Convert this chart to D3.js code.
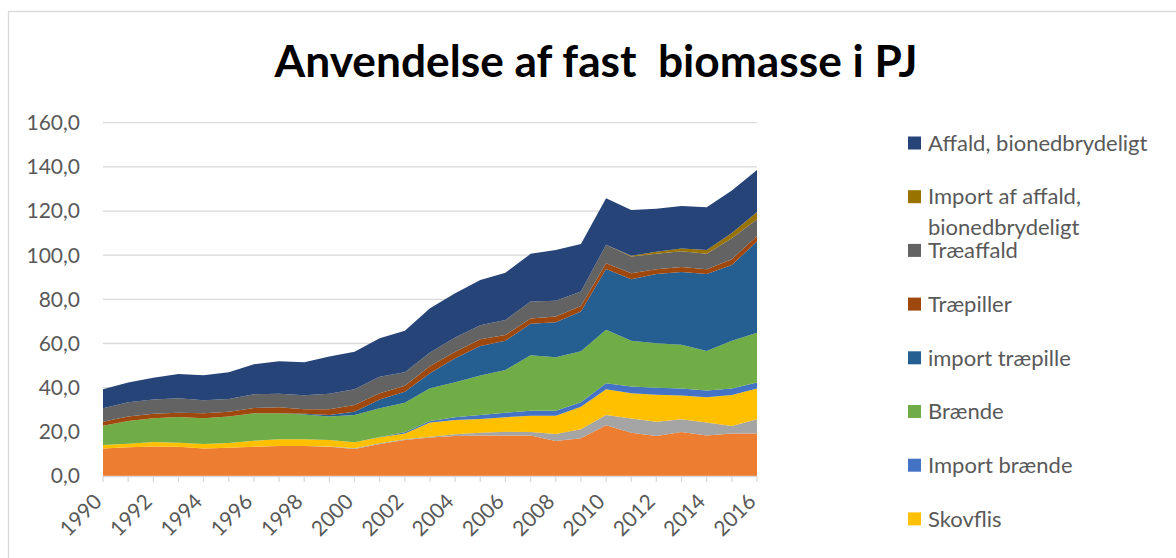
<!DOCTYPE html>
<html>
<head>
<meta charset="utf-8">
<script src="https://cdn.jsdelivr.net/npm/d3@7"></script>
<style>
  body { margin: 0; background: #fff; }
  text { font-family: Lato, "Open Sans", sans-serif; }
</style>
</head>
<body>
<div id="chart"></div>
<script>
var years = d3.range(1990, 2017);

// stacked from bottom to top
var seriesNames = ["Halm", "Import skovflis", "Skovflis", "Import brænde", "Brænde",
  "import træpille", "Træpiller", "Træaffald", "Import af affald, bionedbrydeligt", "Affald, bionedbrydeligt"];
var seriesColors = ["#ED7D31", "#A5A5A5", "#FFC000", "#4472C4", "#70AD47",
  "#255E91", "#9E480E", "#636363", "#997300", "#264478"];

var halm =             [12.5,13.0,13.4,13.3,12.5,12.8,13.3,13.6,13.6,13.3,12.2,14.5,16.3,17.4,18.1,18.3,18.3,18.3,15.9,17.1,23.0,19.6,18.1,19.9,18.3,19.3,19.3];
var importSkovflis =   [0,0,0,0,0,0,0,0,0,0.1,0.4,0.3,0.3,0.4,0.8,1.3,1.7,1.6,3.1,4.1,4.6,6.4,6.5,5.8,5.9,3.4,6.4];
var skovflis =         [1.5,1.6,2.0,1.8,2.0,2.2,2.7,3.0,3.0,2.9,2.7,2.7,2.7,6.4,6.5,6.2,6.6,7.4,8.3,10.2,11.7,11.5,12.2,10.7,11.5,14.0,13.9];
var importBraende =    [0,0,0,0,0,0,0,0,0,0,0,0.2,0.5,0.7,1.2,1.8,2.1,2.3,2.2,2.0,2.7,3.0,3.2,3.2,3.0,2.9,2.7];
var braende =          [8.8,10.3,10.7,11.6,11.6,11.9,12.4,11.8,11.2,10.6,12.3,13.0,13.4,14.8,15.9,17.9,19.3,25.1,24.3,23.1,24.2,20.7,20.1,19.8,17.9,21.7,22.6];
var importTraepiller = [0,0,0,0,0,0,0,0,0.4,0.7,1.5,4.0,5.0,6.8,10.8,13.4,13.3,14.2,15.8,18.0,27.6,27.9,31.4,33.0,34.9,34.3,41.3];
var traepiller =       [1.8,2.0,2.1,2.0,2.3,2.2,2.4,2.7,2.0,2.6,3.1,2.8,2.7,3.3,3.0,3.0,2.6,2.4,2.6,2.5,2.6,2.7,2.1,2.2,2.1,2.6,2.5];
var traeaffald =       [6.1,6.5,6.5,6.5,5.9,5.8,6.2,6.1,6.4,7.0,7.1,7.5,6.1,6.1,6.4,6.4,6.8,7.7,7.2,6.5,8.3,7.6,7.0,7.2,7.0,9.5,7.6];
var importAffald =     [0,0,0,0,0,0,0,0,0,0,0,0,0,0,0,0,0,0,0,0,0,0.4,1.0,1.2,1.8,2.3,3.3];
var affald =           [8.6,9.0,9.8,11.0,11.3,12.1,13.6,14.8,14.9,16.9,17.0,17.4,18.8,20.1,20.1,20.5,21.4,21.6,23.0,21.6,21.1,20.7,19.4,19.3,19.3,19.3,19.0];

var yTicks = [0, 20, 40, 60, 80, 100, 120, 140, 160];
var xLabelYears = d3.range(1990, 2017, 2);

var allSeries = [halm, importSkovflis, skovflis, importBraende, braende,
  importTraepiller, traepiller, traeaffald, importAffald, affald];

var data = years.map(function(yr, i) {
  var row = { year: yr };
  seriesNames.forEach(function(name, k) { row[name] = allSeries[k][i]; });
  return row;
});

var width = 1176,
    height = 558,
    plotLeft = 103, plotRight = 757, plotTop = 122.7, plotBottom = 476;

var svg = d3.select("#chart").append("svg")
    .attr("width", width)
    .attr("height", height);

// chart border
svg.append("rect")
    .attr("x", 8.5).attr("y", 11.5)
    .attr("width", 1200).attr("height", 600)
    .attr("fill", "#fff")
    .attr("stroke", "#D9D9D9")
    .attr("stroke-width", 1.3);

var x = d3.scaleLinear().domain([1990, 2016]).range([plotLeft, plotRight]);
var y = d3.scaleLinear().domain([0, 160]).range([plotBottom, plotTop]);

svg.append("g")
  .selectAll("line")
  .data(yTicks.slice(1))
  .enter().append("line")
    .attr("x1", plotLeft).attr("x2", plotRight)
    .attr("y1", function(d) { return y(d); })
    .attr("y2", function(d) { return y(d); })
    .attr("stroke", "#D9D9D9")
    .attr("stroke-width", 1.3);

var stack = d3.stack().keys(seriesNames);
var area = d3.area()
    .x(function(d) { return x(d.data.year); })
    .y0(function(d) { return y(d[0]); })
    .y1(function(d) { return y(d[1]); });

svg.append("g")
  .selectAll("path")
  .data(stack(data))
  .enter().append("path")
    .attr("d", area)
    .attr("fill", function(d, i) { return seriesColors[i]; });

// x axis
svg.append("line")
    .attr("x1", plotLeft).attr("x2", plotRight)
    .attr("y1", plotBottom + 0.5).attr("y2", plotBottom + 0.5)
    .attr("stroke", "#D9D9D9")
    .attr("stroke-width", 1.3);

svg.append("g")
  .selectAll("line")
  .data(years)
  .enter().append("line")
    .attr("x1", function(d) { return x(d); })
    .attr("x2", function(d) { return x(d); })
    .attr("y1", plotBottom).attr("y2", plotBottom + 6)
    .attr("stroke", "#D9D9D9")
    .attr("stroke-width", 1.3);

svg.append("g")
  .selectAll("text")
  .data(xLabelYears)
  .enter().append("text")
    .attr("transform", function(d) { return "translate(" + x(d) + "," + (plotBottom + 27) + ") rotate(-45)"; })
    .attr("text-anchor", "end")
    .attr("font-size", "21px")
    .attr("fill", "#595959")
    .text(function(d) { return d; });

// y labels
svg.append("g")
  .selectAll("text")
  .data(yTicks)
  .enter().append("text")
    .attr("x", 80)
    .attr("y", function(d) { return y(d); })
    .attr("dy", "0.35em")
    .attr("text-anchor", "end")
    .attr("font-size", "21px")
    .attr("fill", "#595959")
    .text(function(d) { return d3.format(".1f")(d).replace(".", ","); });

// title
var title = svg.append("text")
    .attr("x", 596)
    .attr("y", 77)
    .attr("text-anchor", "middle")
    .attr("font-size", "42px")
    .attr("font-weight", "bold")
    .attr("fill", "#000")
    .style("white-space", "pre")
    .text("Anvendelse af fast  biomasse i PJ");
var tw = title.node().getComputedTextLength();
title.attr("font-size", (42 * 643 / tw) + "px");

// legend, top entry first; entries below the bottom edge are not shown
var legendY = d3.scaleLinear().domain([0, 1]).range([143, 196.7]);
var legendItems = seriesNames.map(function(n, i) { return { name: n, color: seriesColors[i] }; })
    .reverse()
    .filter(function(d, i) { return legendY(i) + 12 < height; });

var legend = svg.append("g")
  .selectAll("g")
  .data(legendItems)
  .enter().append("g")
    .attr("transform", function(d, i) { return "translate(908," + legendY(i) + ")"; });

legend.append("rect")
    .attr("x", 0).attr("y", -6.5)
    .attr("width", 13).attr("height", 13)
    .attr("fill", function(d) { return d.color; });

legend.append("text")
    .attr("x", 20)
    .attr("dy", "0.35em")
    .attr("font-size", "22px")
    .attr("fill", "#595959")
    .each(function(d) {
      var t = d3.select(this);
      if (d.name === "Import af affald, bionedbrydeligt") {
        t.append("tspan").attr("x", 20).text("Import af affald,");
        t.append("tspan").attr("x", 20).attr("dy", "1.37em").text("bionedbrydeligt");
      } else {
        t.text(d.name);
      }
    });
</script>
</body>
</html>
